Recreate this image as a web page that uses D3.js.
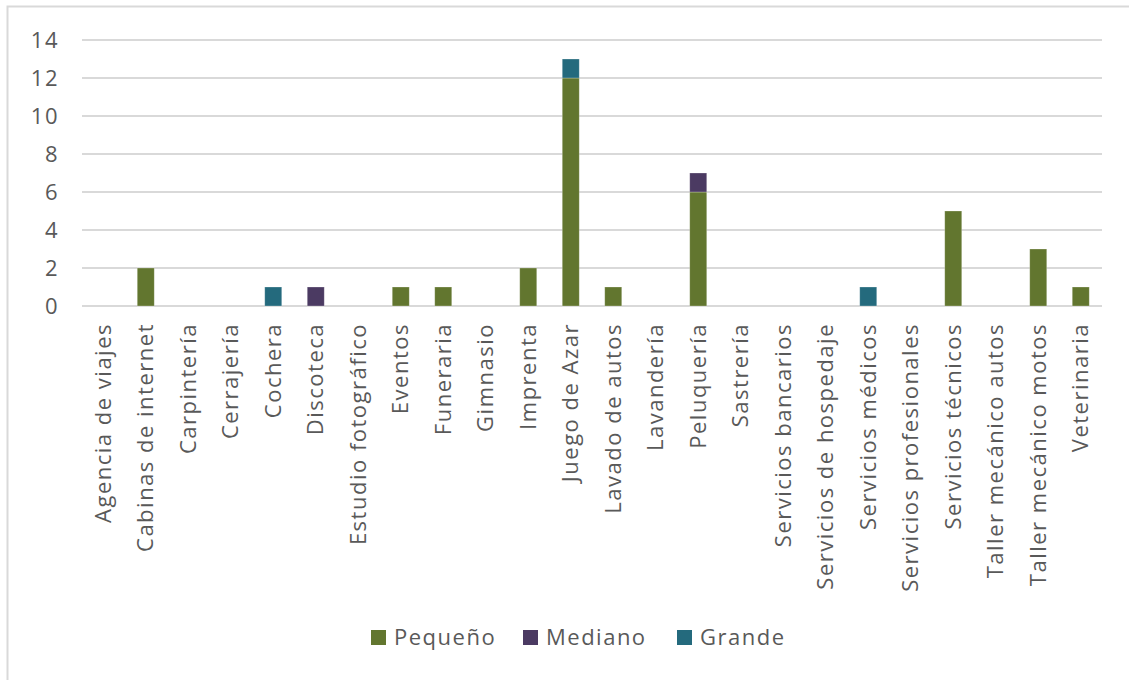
<!DOCTYPE html>
<html>
<head>
<meta charset="utf-8">
<script src="https://cdn.jsdelivr.net/npm/d3@7"></script>
<style>
  body { margin: 0; background: #fff; }
  svg { display: block; font-family: "Open Sans", "Noto Sans", sans-serif; }
</style>
</head>
<body>
<script>
var categories = ["Agencia de viajes", "Cabinas de internet", "Carpintería", "Cerrajería",
    "Cochera", "Discoteca", "Estudio fotográfico", "Eventos", "Funeraria", "Gimnasio",
    "Imprenta", "Juego de Azar", "Lavado de autos", "Lavandería", "Peluquería", "Sastrería",
    "Servicios bancarios", "Servicios de hospedaje", "Servicios médicos",
    "Servicios profesionales", "Servicios técnicos", "Taller mecánico autos",
    "Taller mecánico motos", "Veterinaria"];
var pequeno = [0, 2, 0, 0, 0, 0, 0, 1, 1, 0, 2, 12, 1, 0, 6, 0, 0, 0, 0, 0, 5, 0, 3, 1];
var mediano = [0, 0, 0, 0, 0, 1, 0, 0, 0, 0, 0, 0, 0, 0, 1, 0, 0, 0, 0, 0, 0, 0, 0, 0];
var grande  = [0, 0, 0, 0, 1, 0, 0, 0, 0, 0, 0, 1, 0, 0, 0, 0, 0, 0, 1, 0, 0, 0, 0, 0];
var seriesNames = ["Pequeño", "Mediano", "Grande"];
var colors = ["#62762f", "#4b3a62", "#246a7d"];
var yTicks = [0, 2, 4, 6, 8, 10, 12, 14];

var W = 1129, H = 680;
var m = { left: 82, right: 27, top: 40, bottom: 374 };
var fontSize = 22, spacing = "1.5px";

var svg = d3.select("body").append("svg")
    .attr("width", W)
    .attr("height", H);

// chart border
svg.append("rect")
    .attr("x", 7.5).attr("y", 6.5)
    .attr("width", W + 20).attr("height", H + 20)
    .attr("fill", "none")
    .attr("stroke", "#d9d9d9")
    .attr("stroke-width", 2);

var table = categories.map(function (c, i) {
    return { cat: c, "Pequeño": pequeno[i], "Mediano": mediano[i], "Grande": grande[i] };
});
var stacked = d3.stack().keys(seriesNames)(table);

var x = d3.scaleBand()
    .domain(categories)
    .range([m.left, W - m.right])
    .paddingInner(0.6)
    .paddingOuter(0.3);

var y = d3.scaleLinear()
    .domain([0, 14])
    .range([H - m.bottom, m.top]);

// gridlines
svg.append("g")
    .selectAll("line")
    .data(yTicks)
    .join("line")
    .attr("x1", m.left).attr("x2", W - m.right)
    .attr("y1", function (d) { return y(d); })
    .attr("y2", function (d) { return y(d); })
    .attr("stroke", "#d9d9d9")
    .attr("stroke-width", 2);

// y axis labels
var yAxis = d3.axisLeft(y).tickValues(yTicks).tickSize(0).tickPadding(0);
svg.append("g")
    .attr("transform", "translate(" + 59 + ",0)")
    .call(yAxis)
    .call(function (g) { g.select(".domain").remove(); })
    .selectAll("text")
    .attr("font-size", fontSize)
    .attr("letter-spacing", spacing)
    .attr("font-family", "Open Sans, Noto Sans, sans-serif")
    .attr("fill", "#595959");

// bars
svg.append("g")
    .selectAll("g")
    .data(stacked)
    .join("g")
    .attr("fill", function (d, i) { return colors[i]; })
    .selectAll("rect")
    .data(function (d) { return d.filter(function (p) { return p[1] > p[0]; }); })
    .join("rect")
    .attr("x", function (d) { return x(d.data.cat); })
    .attr("y", function (d) { return y(d[1]); })
    .attr("width", x.bandwidth())
    .attr("height", function (d) { return y(d[0]) - y(d[1]); })
    .attr("stroke", "#ffffff")
    .attr("stroke-opacity", 0.35)
    .attr("stroke-width", 0.75);

// x axis labels
var xAxis = d3.axisBottom(x).tickSize(0).tickPadding(0);
svg.append("g")
    .attr("transform", "translate(0," + (H - m.bottom + 17) + ")")
    .call(xAxis)
    .call(function (g) { g.select(".domain").remove(); })
    .selectAll("text")
    .attr("font-size", fontSize)
    .attr("letter-spacing", spacing)
    .attr("font-family", "Open Sans, Noto Sans, sans-serif")
    .attr("fill", "#595959")
    .attr("text-anchor", "end")
    .attr("transform", "rotate(-90)")
    .attr("x", 0)
    .attr("y", 0)
    .attr("dy", "0.35em");

// legend
var legendX = [371, 523, 677];
var legend = svg.append("g")
    .selectAll("g")
    .data(seriesNames)
    .join("g")
    .attr("transform", function (d, i) { return "translate(" + legendX[i] + ",630)"; });
legend.append("rect")
    .attr("width", 15).attr("height", 15)
    .attr("fill", function (d, i) { return colors[i]; });
legend.append("text")
    .attr("x", 23).attr("y", 7.5)
    .attr("dy", "0.35em")
    .attr("font-size", fontSize)
    .attr("letter-spacing", spacing)
    .attr("fill", "#595959")
    .text(function (d) { return d; });
</script>
</body>
</html>
